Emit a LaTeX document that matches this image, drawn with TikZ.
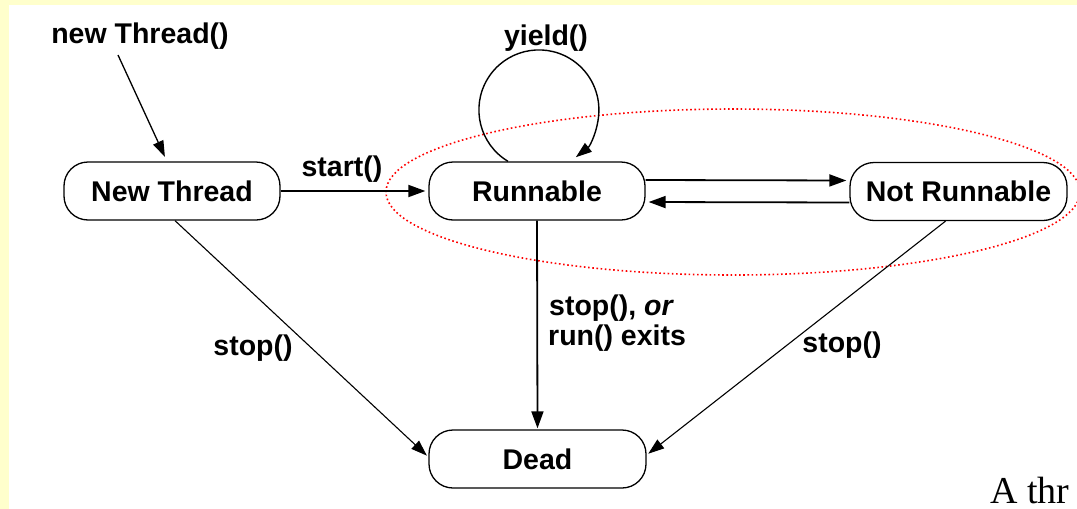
\documentclass[tikz,border=0pt]{standalone}
\usepackage{fontspec}
\setmainfont{Liberation Sans}
\newfontfamily\timesfont{Liberation Serif}
\usetikzlibrary{arrows.meta}
\definecolor{paleyellow}{HTML}{FFFFCC}
\begin{document}
\begin{tikzpicture}[x=1pt,y=1pt,
  statebox/.style={draw, line width=1.3pt, rounded corners=24pt, fill=white,
    minimum width=216pt, minimum height=58pt, inner sep=0pt,
    font=\bfseries\fontsize{28.5}{31}\selectfont},
  lbl/.style={font=\bfseries\fontsize{28.5}{31}\selectfont, inner sep=0pt},
  conn/.style={line width=1.8pt, -{Triangle[length=17pt,width=12pt]}, shorten >=3pt},
  thinconn/.style={line width=1.1pt, -{Triangle[length=16pt,width=11pt]}, shorten >=2pt}
]
\useasboundingbox (0,0) rectangle (1077,-509);
\clip (0,0) rectangle (1077,-509);
\fill[paleyellow] (0,0) rectangle (1077,-509);
\fill[white] (9,-5) rectangle (1077,-509);

% red dotted ellipse
\draw[red, line width=1.6pt, dash pattern=on 1.6pt off 2.6pt] (733,-192) ellipse[x radius=347, y radius=83];

% nodes
\node[statebox] (nt) at (172,-191) {New Thread};
\node[statebox] (run) at (537,-191) {Runnable};
\node[statebox, minimum width=217pt] (nr) at (958.5,-191.5) {Not Runnable};
\node[statebox, minimum width=217pt] (dead) at (537.5,-459) {Dead};

% labels
\node[lbl, anchor=base] (lnew) at (140,-43) {new Thread()};
\coordinate (ntstart) at (118,-55);
\node[lbl, anchor=base] (lstart) at (342,-176) {start()};
\node[lbl, anchor=base] (lyield) at (546,-45) {yield()};
\node[lbl, anchor=base] (lstop1) at (253,-355) {stop()};
\node[lbl, anchor=base] (lstop2) at (842,-352) {stop()};
\node[lbl, anchor=base west] (lrun1) at (549,-315) {stop(), \textit{or}};
\node[lbl, anchor=base west] (lrun2) at (548,-345) {run() exits};
\node[font=\timesfont\fontsize{38}{42}\selectfont, anchor=base west, inner sep=0pt] (athr) at (990,-503) {A thr};

% connectors
\draw[line width=1.3pt, -{Triangle[length=16pt,width=11pt]}, shorten >=5pt] (ntstart) -- ([xshift=-5pt]nt.north);
\draw[conn] (nt.east) -- (run.west);
\draw[conn] ([yshift=11pt]run.east) -- ([yshift=11pt]nr.west);
\draw[conn] ([yshift=-11pt]nr.west) -- ([yshift=-11pt]run.east);
\draw[conn, shorten >=1pt] (run.south) -- (dead.north);
\draw[thinconn] ([xshift=3pt]nt.south) -- ([yshift=2pt]dead.west);
\draw[thinconn] ([xshift=-13pt]nr.south) -- ([yshift=4pt]dead.east);
\draw[line width=1.4pt, -{Triangle[length=16pt,width=11pt]}] ([xshift=-29pt]run.north) arc[start angle=239, end angle=-52, radius=60];
\end{tikzpicture}
\end{document}
